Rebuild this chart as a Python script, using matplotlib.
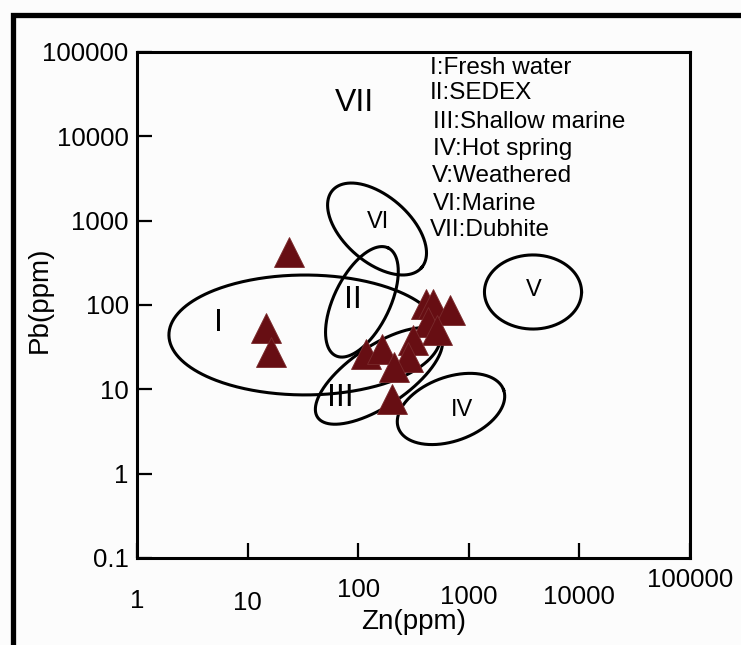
import numpy as np
import matplotlib
matplotlib.use("Agg")
import matplotlib.pyplot as plt
from matplotlib.patches import Rectangle

plt.rcParams['font.family'] = ['Liberation Sans', 'DejaVu Sans']

# sample points (Zn, Pb in ppm)
zn = [23.7, 14.7, 16.3, 410, 475, 676, 428, 516, 313, 118, 164, 282, 211, 202]
pb = [420, 53.4, 27.7, 103, 103, 87, 63, 50.6, 38.5, 26.3, 30.1, 24.2, 18.4, 7.7]

# discrimination fields: centre Zn, centre Pb, semi-axes (decades), angle (deg)
field_names = ['I', 'II', 'III', 'IV', 'V', 'VI']
field_zn = [33.0, 108, 154, 690, 3805, 148]
field_pb = [44.1, 109, 14.4, 5.85, 142.6, 796]
field_a = [1.23, 0.542, 0.669, 0.506, 0.439, 0.533]
field_b = [0.542, 0.253, 0.271, 0.289, 0.335, 0.298]
field_ang = [0, 64, 34, 20, 0, -41]

# where the roman numerals sit
label_names = ['I', 'II', 'III', 'IV', 'V', 'VI', 'VII']
label_zn = [5.4, 89.8, 68.4, 868, 3890, 151, 93]
label_pb = [61, 115, 7.9, 5.7, 151, 963, 24800]
label_size = [23, 23, 23, 17, 17, 17, 23]

legend_lines = ['I:Fresh water', 'II:SEDEX', 'III:Shallow marine', 'IV:Hot spring',
                'V:Weathered', 'VI:Marine', 'VII:Dubhite']

x_ticks = [1, 10, 100, 1000, 10000, 100000]
y_ticks = [0.1, 1, 10, 100, 1000, 10000, 100000]

fig = plt.figure(figsize=(7.41, 6.45), dpi=100)
fig.patch.set_facecolor('#fcfcfc')
ax = fig.add_axes([0.1849, 0.1349, 0.7463, 0.7845])
ax.set_facecolor('#fcfcfc')
ax.set_xscale('log')
ax.set_yscale('log')
ax.set_xlim(1, 100000)
ax.set_ylim(0.1, 100000)

# thick frame round the figure (cut off at right and bottom)
fig.add_artist(Rectangle((12.5 / 741, -0.2), 1.2, 1.2 - 14.5 / 645,
                         transform=fig.transFigure, fill=False, lw=3.8,
                         edgecolor='black', clip_on=False))

for s in ax.spines.values():
    s.set_linewidth(2.2)

ax.set_xticks(x_ticks)
ax.set_xticklabels([''] * len(x_ticks))
ax.set_yticks(y_ticks)
ax.set_yticklabels([str(v) if v < 1 else str(int(v)) for v in y_ticks], fontsize=18.5)
ax.minorticks_off()
ax.tick_params(axis='both', direction='in', length=11, width=1.6, pad=6)

# x tick labels are not aligned in the original, nudge each one
x_drop = [0.085, 0.088, 0.063, 0.077, 0.077, 0.043]
for v, d in zip(x_ticks, x_drop):
    ax.text(v, -d, str(v), transform=ax.get_xaxis_transform(), ha='center',
            va='center', fontsize=18.5, clip_on=False)

ax.set_xlabel('Zn(ppm)', fontsize=20)
ax.xaxis.set_label_coords(0.5, -0.1)
ax.set_ylabel('Pb(ppm)', fontsize=20)
ax.yaxis.set_label_coords(-0.152, 0.51)

# aspect: display size of one y decade relative to one x decade
pos = ax.get_position()
k = (pos.height * 6.45 / 6) / (pos.width * 7.41 / 5)

t = np.linspace(0, 2 * np.pi, 400)
for cz, cp, a, b, ang in zip(field_zn, field_pb, field_a, field_b, field_ang):
    th = np.radians(ang)
    dx = a * np.cos(t) * np.cos(th) - b * np.sin(t) * np.sin(th)
    dy = (a * np.cos(t) * np.sin(th) + b * np.sin(t) * np.cos(th)) / k
    ax.plot(10 ** (np.log10(cz) + dx), 10 ** (np.log10(cp) + dy),
            color='black', lw=2.2, zorder=2)

for name, x, y, fs in zip(label_names, label_zn, label_pb, label_size):
    ax.text(x, y, name, ha='center', va='center', fontsize=fs, zorder=3)

ax.plot(zn, pb, linestyle='none', marker='^', markersize=21,
        markerfacecolor='#670e13', markeredgecolor='#7a2a2c', markeredgewidth=0.6,
        zorder=4)

leg_x = [0.530, 0.530, 0.535, 0.535, 0.533, 0.535, 0.530]
leg_y = [0.968, 0.919, 0.862, 0.808, 0.755, 0.700, 0.648]
for txt, x, y in zip(legend_lines, leg_x, leg_y):
    ax.text(x, y, txt, transform=ax.transAxes, ha='left', va='center', fontsize=17.5)

plt.savefig('out.png', dpi=100, facecolor=fig.get_facecolor())
